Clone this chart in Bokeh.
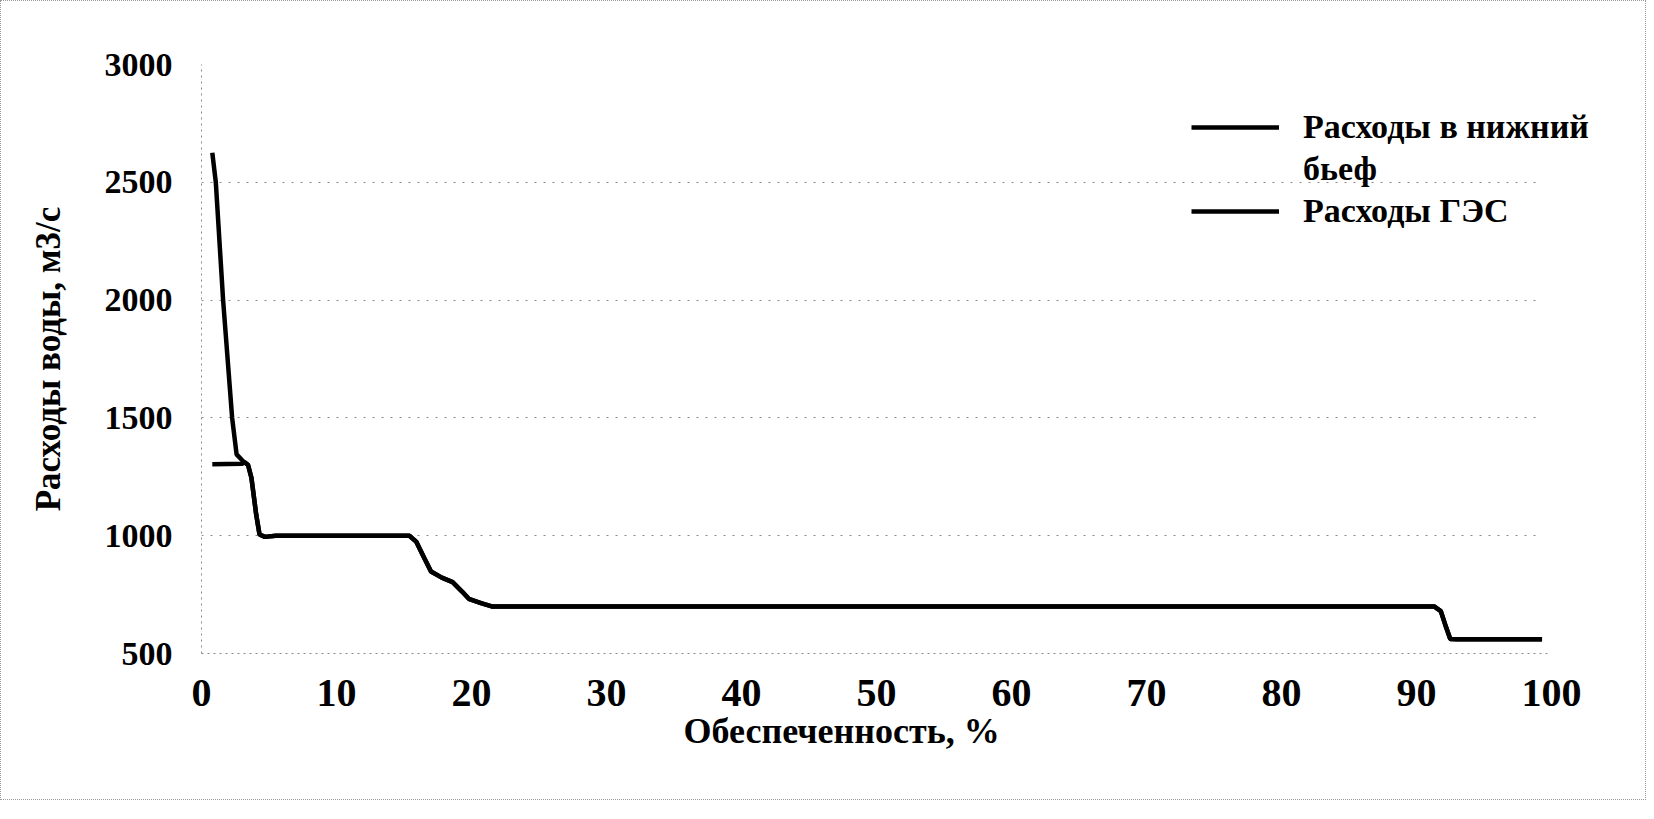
from bokeh.plotting import figure
from bokeh.models import Range1d, Legend, LegendItem, FixedTicker, Title
from bokeh.embed import file_html
from bokeh.resources import INLINE

# Обеспеченность, % / Расходы, м3/с
x_nb = [0.8, 1.06, 1.6, 2.27, 2.6, 3.1, 3.45, 3.7, 4.05, 4.3, 4.7, 5.5, 15.4, 15.9, 16.5, 17.0,
        17.8, 18.6, 19.3, 19.8, 20.7, 21.5, 91.3, 91.8, 92.2, 92.5, 93.0, 99.3]
y_nb = [2625, 2500, 2000, 1500, 1345, 1315, 1300, 1245, 1090, 1005, 995, 1000, 1000, 975, 905, 848,
        822, 803, 763, 732, 714, 700, 700, 680, 610, 562, 560, 560]

x_ges = [0.8, 3.0, 3.2, 3.45, 3.7, 4.05, 4.3, 4.7, 5.5, 15.4, 15.9, 16.5, 17.0,
         17.8, 18.6, 19.3, 19.8, 20.7, 21.5, 91.3, 91.8, 92.2, 92.5, 93.0, 99.3]
y_ges = [1303, 1305, 1312, 1300, 1245, 1090, 1005, 995, 1000, 1000, 975, 905, 848,
         822, 803, 763, 732, 714, 700, 700, 680, 610, 562, 560, 560]

x_ticks = [0, 10, 20, 30, 40, 50, 60, 70, 80, 90, 100]
y_ticks = [500, 1000, 1500, 2000, 2500, 3000]

label_nb_1 = "Расходы в нижний"
label_nb_2 = "бьеф"
label_ges = "Расходы ГЭС"
x_title = "Обеспеченность, %"
y_title = "Расходы воды, м3/с"

FONT = "Liberation Serif"

# frame spans 200..1620 px; x = 100 sits at 1550 px, the legend overhangs it as in the reference
x_end = 100 * (1620 - 200) / (1550 - 200)

p = figure(width=1646, height=800, output_backend="svg", toolbar_location=None,
           x_range=Range1d(0, x_end), y_range=Range1d(500, 3000),
           min_border_left=200, min_border_right=26, min_border_top=63, min_border_bottom=148)
p.styles = {"border": "1px dotted #9a9a9a"}
p.outline_line_color = None
p.background_fill_color = "white"
p.border_fill_color = "white"

r1 = p.line(x_nb, y_nb, line_color="black", line_width=4.5)
r2 = p.line(x_ges, y_ges, line_color="black", line_width=4.5)

p.xaxis.ticker = FixedTicker(ticks=x_ticks)
p.yaxis.ticker = FixedTicker(ticks=y_ticks)
p.xaxis.bounds = (0, 100)
p.xgrid.grid_line_color = None
p.ygrid.grid_line_color = "#8a8a8a"
p.ygrid.grid_line_dash = "2 7"
p.ygrid.grid_line_width = 1
p.ygrid.cross_bounds = (0, 99)

for ax in (p.xaxis[0], p.yaxis[0]):
    ax.axis_line_color = "#8a8a8a"
    ax.axis_line_dash = "2 4"
    ax.major_tick_line_color = None
    ax.minor_tick_line_color = None
    ax.major_label_text_font = FONT
    ax.major_label_text_font_style = "bold"
    ax.major_label_text_color = "black"
    ax.axis_label_text_font = FONT
    ax.axis_label_text_font_style = "bold"
    ax.axis_label_text_color = "black"

p.xaxis.major_label_text_font_size = "40px"
p.yaxis.major_label_text_font_size = "34px"
p.yaxis.axis_label_text_font_size = "35px"

p.yaxis.axis_label = y_title
p.xaxis.major_label_standoff = 20
p.yaxis.major_label_standoff = 23
p.yaxis.axis_label_standoff = 34

xt = Title(text=x_title, align="left", offset=482, standoff=0)
xt.text_font = FONT
xt.text_font_style = "bold"
xt.text_font_size = "36px"
xt.text_color = "black"
p.add_layout(xt, "below")

legend = Legend(items=[LegendItem(label=label_nb_1, renderers=[r1]),
                       LegendItem(label=label_nb_2, renderers=[]),
                       LegendItem(label=label_ges, renderers=[r2])],
                location=(990, 423))
legend.label_text_font = FONT
legend.label_text_font_style = "bold"
legend.label_text_font_size = "34px"
legend.label_text_line_height = 1.1
legend.label_text_color = "black"
legend.glyph_width = 88
legend.label_standoff = 24
legend.spacing = 4
legend.border_line_color = None
legend.background_fill_alpha = 0
legend.padding = 0
legend.margin = 0
p.add_layout(legend, "center")

open("out.html", "w").write(file_html(p, INLINE))
